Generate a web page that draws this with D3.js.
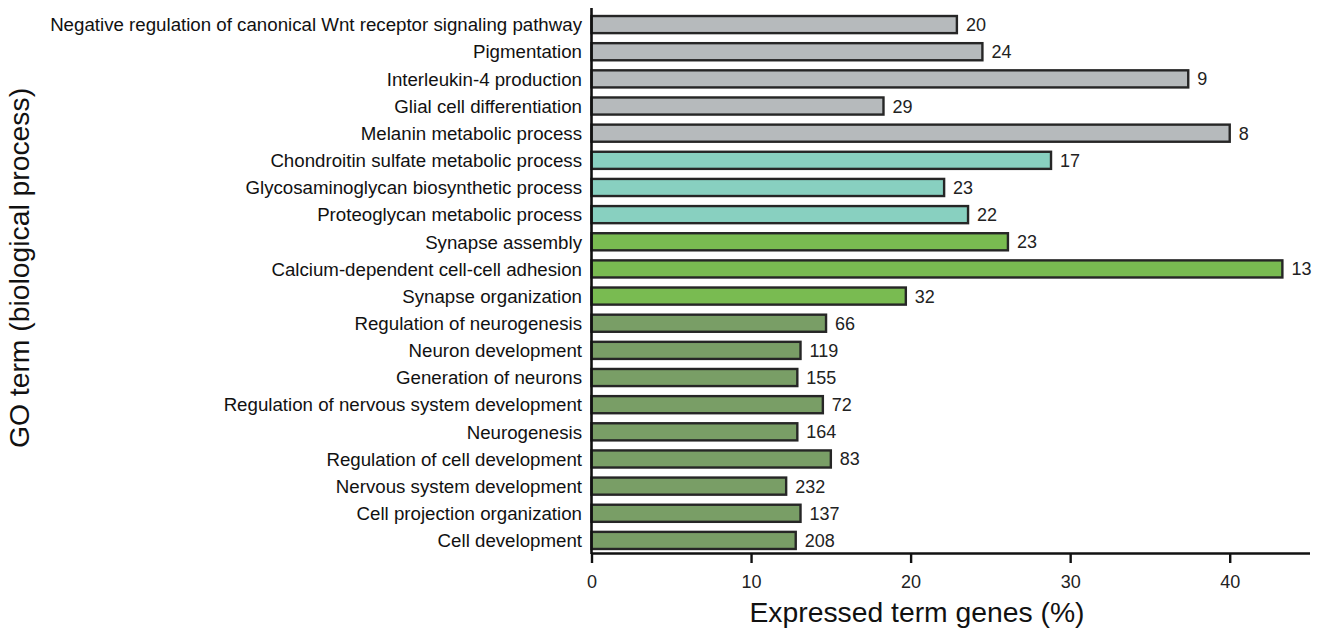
<!DOCTYPE html>
<html>
<head>
<meta charset="utf-8">
<script src="https://cdn.jsdelivr.net/npm/d3@7"></script>
<style>
  html, body { margin: 0; padding: 0; background: #fff; }
  svg { display: block; font-family: "Liberation Sans", Arial, sans-serif; }
</style>
</head>
<body>
<svg id="chart" width="1324" height="629"></svg>
<script>
const categories = [
  "Negative regulation of canonical Wnt receptor signaling pathway",
  "Pigmentation",
  "Interleukin-4 production",
  "Glial cell differentiation",
  "Melanin metabolic process",
  "Chondroitin sulfate metabolic process",
  "Glycosaminoglycan biosynthetic process",
  "Proteoglycan metabolic process",
  "Synapse assembly",
  "Calcium-dependent cell-cell adhesion",
  "Synapse organization",
  "Regulation of neurogenesis",
  "Neuron development",
  "Generation of neurons",
  "Regulation of nervous system development",
  "Neurogenesis",
  "Regulation of cell development",
  "Nervous system development",
  "Cell projection organization",
  "Cell development"
];
const percentValues = [22.9, 24.5, 37.4, 18.3, 40.0, 28.8, 22.1, 23.6, 26.1, 43.3, 19.7, 14.7, 13.1, 12.9, 14.5, 12.9, 15.0, 12.2, 13.1, 12.8];
const geneCounts = [20, 24, 9, 29, 8, 17, 23, 22, 23, 13, 32, 66, 119, 155, 72, 164, 83, 232, 137, 208];
const groups = ["other","other","other","other","other","gag","gag","gag","synapse","synapse","synapse","neuro","neuro","neuro","neuro","neuro","neuro","neuro","neuro","neuro"];
const xTicks = [0, 10, 20, 30, 40];
const groupColors = { other: "#b6babc", gag: "#88d0c0", synapse: "#79bb51", neuro: "#799e66" };

const svg = d3.select("#chart");
const x0 = 591.5, x1 = 1309.5, yTop = 11, yBot = 554;

const x = d3.scaleLinear().domain([0, 45]).range([x0, x1]);
const y = d3.scaleBand().domain(categories).range([yTop, yBot]).paddingInner(0.37).paddingOuter(0.185);

const data = categories.map((c, i) => ({ c, v: percentValues[i], n: geneCounts[i], g: groups[i] }));

// bars
svg.append("g").selectAll("rect").data(data).join("rect")
  .attr("x", x(0))
  .attr("y", d => y(d.c))
  .attr("width", d => x(d.v) - x(0))
  .attr("height", y.bandwidth())
  .attr("fill", d => groupColors[d.g])
  .attr("stroke", "#262626")
  .attr("stroke-width", 2.4);

// value labels
svg.append("g").selectAll("text").data(data).join("text")
  .attr("x", d => x(d.v) + 9)
  .attr("y", d => y(d.c) + y.bandwidth() / 2)
  .attr("dy", "0.36em")
  .attr("font-size", 18)
  .attr("fill", "#222")
  .text(d => d.n);

// category labels
svg.append("g").selectAll("text").data(data).join("text")
  .attr("x", 582)
  .attr("y", d => y(d.c) + y.bandwidth() / 2)
  .attr("dy", "0.36em")
  .attr("text-anchor", "end")
  .attr("font-size", 18.7)
  .attr("fill", "#111")
  .text(d => d.c);

// y axis line
svg.append("line")
  .attr("x1", x0).attr("x2", x0).attr("y1", 8).attr("y2", 554)
  .attr("stroke", "#111").attr("stroke-width", 2.6);

// x axis
const xAxis = d3.axisBottom(x).tickValues(xTicks).tickSize(10).tickPadding(12).tickSizeOuter(0);
const gx = svg.append("g").attr("transform", `translate(0,553)`).call(xAxis);
gx.select(".domain").attr("stroke", "#111").attr("stroke-width", 2.6);
gx.selectAll(".tick line").attr("stroke", "#111").attr("stroke-width", 2.4);
gx.selectAll(".tick text").attr("font-size", 18).attr("fill", "#222")
  .attr("font-family", "'Liberation Sans', Arial, sans-serif");

// axis titles
svg.append("text")
  .attr("x", 917).attr("y", 622)
  .attr("text-anchor", "middle")
  .attr("font-size", 28.3)
  .attr("fill", "#111")
  .text("Expressed term genes (%)");

svg.append("text")
  .attr("transform", "translate(29,268) rotate(-90)")
  .attr("text-anchor", "middle")
  .attr("font-size", 28.3)
  .attr("fill", "#111")
  .text("GO term (biological process)");
</script>
</body>
</html>
